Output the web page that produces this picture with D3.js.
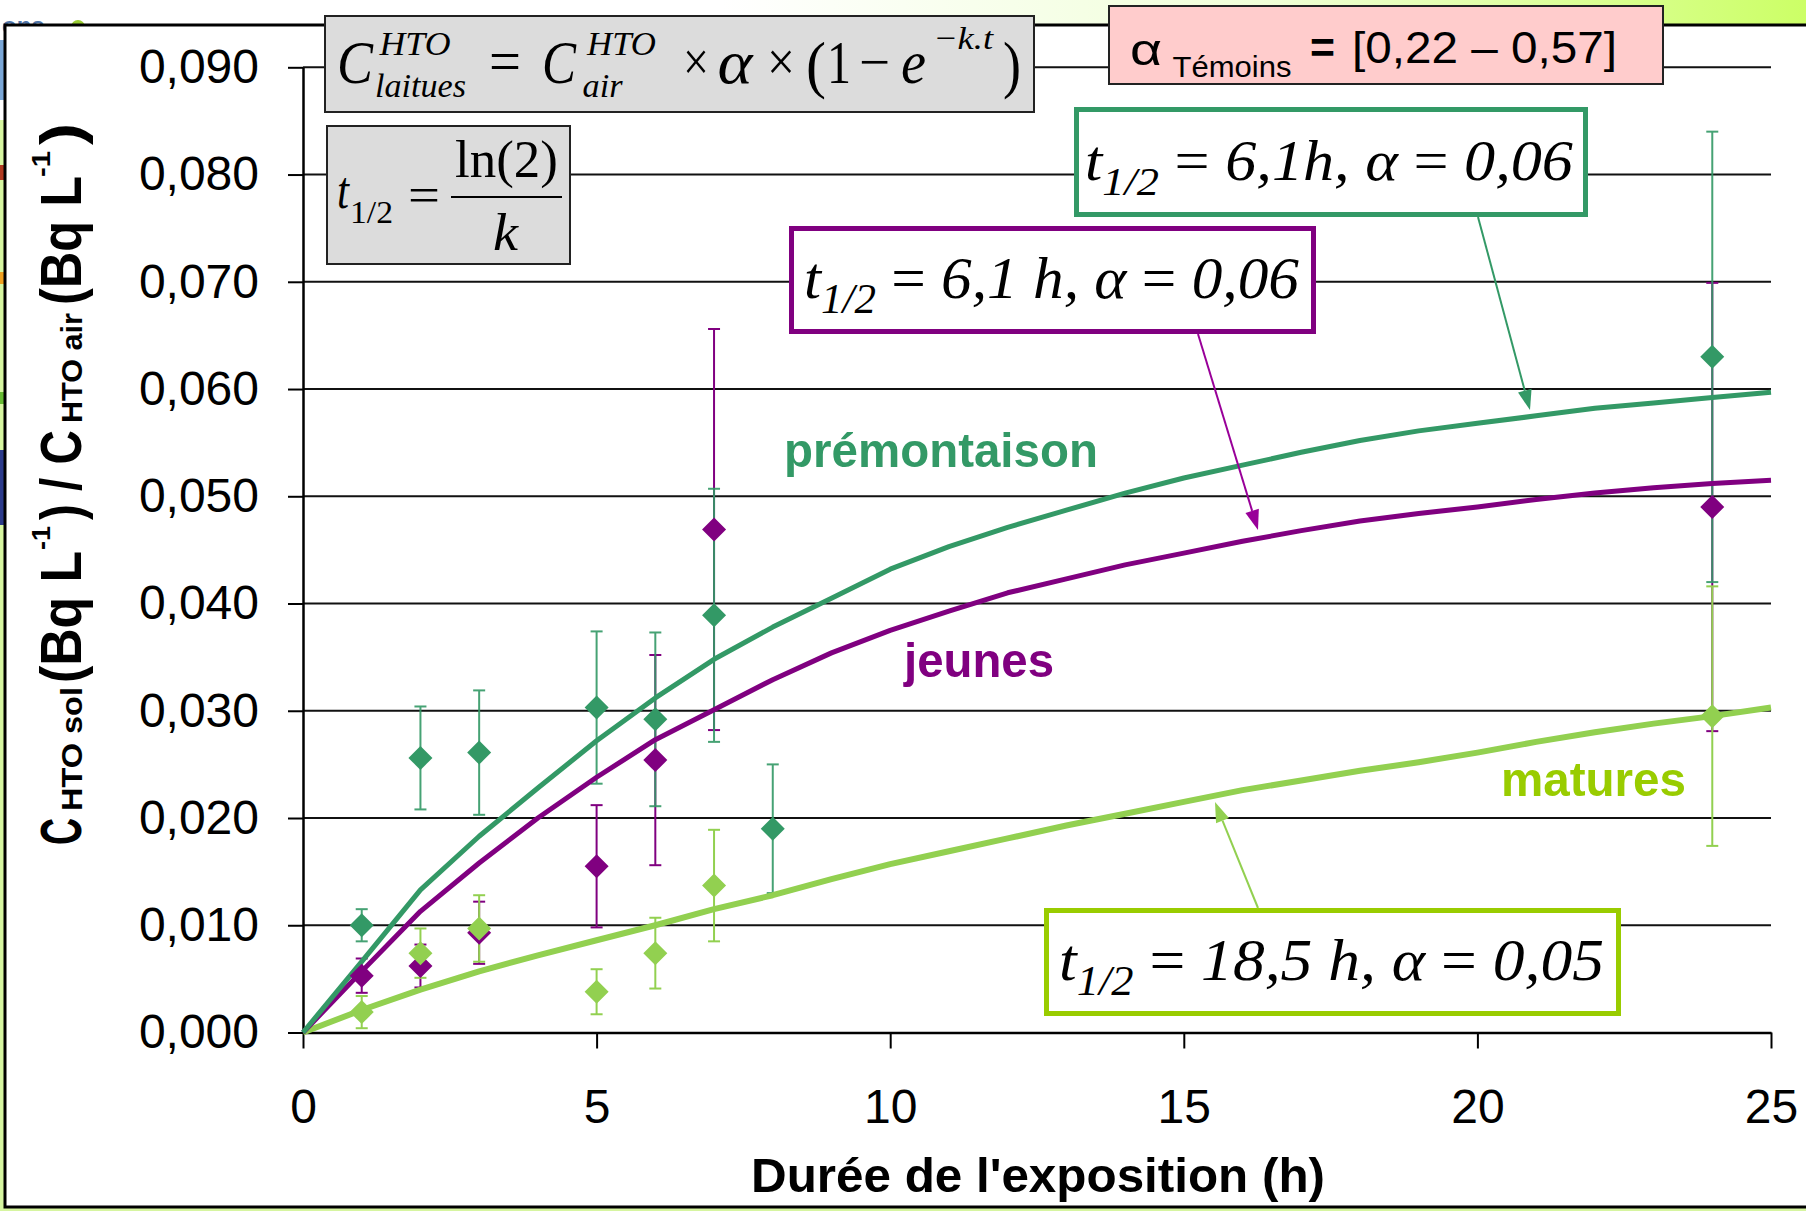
<!DOCTYPE html>
<html><head><meta charset="utf-8">
<script src="https://cdn.jsdelivr.net/npm/d3@7"></script>
<style>html,body{margin:0;padding:0;background:#fff;}svg{display:block;}</style>
</head><body>
<svg id="chart" width="1806" height="1211"></svg>
<script>
// ---------- data ----------
const xTicks = [0, 5, 10, 15, 20, 25];
const yTicks = [0, 0.01, 0.02, 0.03, 0.04, 0.05, 0.06, 0.07, 0.08, 0.09];
const yTickLabels = ["0,000","0,010","0,020","0,030","0,040","0,050","0,060","0,070","0,080","0,090"];

const premHours = [1, 2, 3, 5, 6, 7, 8, 24];
const premMean  = [0.0100, 0.0256, 0.0261, 0.0303, 0.0292, 0.0389, 0.0190, 0.0630];
const premErr   = [0.0015, 0.0048, 0.0058, 0.0071, 0.0081, 0.0118, 0.0060, 0.0210];

const jeunHours = [1, 2, 3, 5, 6, 7, 24];
const jeunMean  = [0.0053, 0.0062, 0.0093, 0.0155, 0.0254, 0.0469, 0.0490];
const jeunErr   = [0.0016, 0.0020, 0.0029, 0.0057, 0.0098, 0.0187, 0.0209];

const matHours = [1, 2, 3, 5, 6, 7, 24];
const matMean  = [0.0019, 0.0074, 0.0097, 0.0038, 0.0074, 0.0137, 0.0295];
const matErr   = [0.0015, 0.0023, 0.0031, 0.0021, 0.0033, 0.0052, 0.0121];

const fitHours = [0,1,2,3,4,5,6,7,8,9,10,11,12,13,14,15,16,17,18,19,20,21,22,23,24,25];
const premFit = [0,0.0066,0.0133,0.0183,0.0228,0.0272,0.0312,0.0348,0.0378,0.0405,0.0432,0.0453,0.0471,0.0487,0.0503,0.0517,0.0529,0.0541,0.0552,0.0561,0.0568,0.0575,0.0582,0.0587,0.0592,0.0597];
const jeunFit = [0,0.0057,0.0113,0.0158,0.0200,0.0238,0.0273,0.0301,0.0329,0.0354,0.0375,0.0393,0.0410,0.0423,0.0436,0.0447,0.0458,0.0468,0.0477,0.0484,0.0490,0.0497,0.0503,0.0508,0.0512,0.0515];
const matFit  = [0,0.0021,0.0040,0.0057,0.0072,0.0086,0.0100,0.0115,0.0128,0.0143,0.0157,0.0169,0.0181,0.0193,0.0204,0.0215,0.0226,0.0235,0.0244,0.0252,0.0261,0.0271,0.0280,0.0288,0.0295,0.0303];

// ---------- setup ----------
const SANS = "'Liberation Sans', Arial, Helvetica, sans-serif";
const SERIF = "'Liberation Serif', 'Times New Roman', serif";
const C_PREM = "#339966", C_JEUN = "#800080", C_MAT = "#92d050", C_MATTXT = "#99cc00";

const svg = d3.select("#chart");
const defs = svg.append("defs");
const grad = defs.append("linearGradient").attr("id","bg").attr("x1",0).attr("x2",1).attr("y1",0).attr("y2",0);
grad.append("stop").attr("offset","0").attr("stop-color","#ffffff");
grad.append("stop").attr("offset","0.4").attr("stop-color","#ffffff");
grad.append("stop").attr("offset","0.7").attr("stop-color","#f0ffd8");
grad.append("stop").attr("offset","1").attr("stop-color","#ccff66");
svg.append("rect").attr("width",1806).attr("height",1211).attr("fill","url(#bg)");
svg.append("rect").attr("x",0).attr("y",120).attr("width",8).attr("height",1091).attr("fill","#d6f5a0");
svg.append("rect").attr("x",0).attr("y",1205).attr("width",1806).attr("height",6).attr("fill","#d6f5a0");
// logo fragments on slide
svg.append("text").attr("x",2).attr("y",34).attr("font-family",SANS).attr("font-weight","bold").attr("font-size",24).attr("fill","#4f74a8").text("ons");
svg.append("circle").attr("cx",78).attr("cy",27).attr("r",7).attr("fill","#99cc33");
[[40,100,"#7aa6d6"],[165,180,"#b03a20"],[272,284,"#f0a020"],[392,404,"#66bb33"],[450,525,"#2b3a8a"]].forEach(b=>{
  svg.append("rect").attr("x",0).attr("y",b[0]).attr("width",6).attr("height",b[1]-b[0]).attr("fill",b[2]);
});
// frame
svg.append("rect").attr("x",5).attr("y",25).attr("width",1820).attr("height",1182)
  .attr("fill","#ffffff").attr("stroke","#000").attr("stroke-width",3);

const x = d3.scaleLinear().domain([0,25]).range([303,1771]);
const y = d3.scaleLinear().domain([0,0.09]).range([1032.5,67.3]);

// gridlines
svg.append("g").selectAll("line").data(yTicks.slice(1)).join("line")
  .attr("x1",x(0)).attr("x2",x(25)).attr("y1",d=>y(d)).attr("y2",d=>y(d))
  .attr("stroke","#111").attr("stroke-width",2);

// axes
const gy = svg.append("g").attr("transform",`translate(${x(0)},0)`)
  .call(d3.axisLeft(y).tickValues(yTicks).tickSize(15).tickSizeOuter(0).tickPadding(29)
        .tickFormat((d,i)=>yTickLabels[i]));
const gx = svg.append("g").attr("transform",`translate(0,${y(0)})`)
  .call(d3.axisBottom(x).tickValues(xTicks).tickSize(16).tickSizeOuter(0).tickPadding(40)
        .tickFormat(d=>String(d)));
[gx,gy].forEach(g=>{
  g.attr("font-family",SANS).attr("font-size",48);
  g.selectAll("text").attr("fill","#000");
  g.selectAll("line").attr("stroke","#000").attr("stroke-width",2);
  g.select(".domain").attr("stroke","#000").attr("stroke-width",2.5);
});

// axis titles
svg.append("text").attr("x",751).attr("y",1192).attr("font-family",SANS).attr("font-weight","bold")
  .attr("font-size",48).attr("textLength",574).attr("lengthAdjust","spacingAndGlyphs")
  .text("Durée de l'exposition (h)");

const yt = svg.append("g").attr("transform","rotate(-90)").attr("font-family",SANS).attr("font-weight","bold");
function ypiece(str, yStart, len, baseX, size){
  yt.append("text").attr("x",-yStart).attr("y",baseX).attr("font-size",size)
    .attr("textLength",len).attr("lengthAdjust","spacingAndGlyphs").text(str);
}
ypiece("C", 845, 27, 81, 58);
ypiece("HTO sol", 811, 124, 82, 29);
ypiece("(Bq L", 683, 132, 81, 58);
ypiece("-1", 550, 24, 50, 26);
ypiece(") / C", 520, 90, 81, 58);
ypiece("HTO air", 423, 110, 82, 29);
ypiece("(Bq L", 305, 129, 81, 58);
ypiece("-1", 177, 26, 50, 26);
ypiece(")", 145, 22, 81, 58);

// ---------- series ----------
const line = d3.line().x((d,i)=>x(fitHours[i])).y(d=>y(d));
const diamond = { draw(ctx,size){ const r=Math.sqrt(size/2); ctx.moveTo(0,-r); ctx.lineTo(r,0); ctx.lineTo(0,r); ctx.lineTo(-r,0); ctx.closePath(); } };

function errbars(hours, mean, err, color, op){
  const g = svg.append("g").attr("stroke",color).attr("stroke-width",2).attr("opacity",op);
  hours.forEach((h,i)=>{
    const xx = x(h), y1 = y(mean[i]+err[i]), y2 = y(mean[i]-err[i]);
    g.append("line").attr("x1",xx).attr("x2",xx).attr("y1",y1).attr("y2",y2);
    g.append("line").attr("x1",xx-6).attr("x2",xx+6).attr("y1",y1).attr("y2",y1);
    g.append("line").attr("x1",xx-6).attr("x2",xx+6).attr("y1",y2).attr("y2",y2);
  });
}
errbars(jeunHours, jeunMean, jeunErr, C_JEUN, 1);
errbars(premHours, premMean, premErr, C_PREM, 0.9);
errbars(matHours, matMean, matErr, C_MAT, 1);

svg.append("path").datum(matFit).attr("d",line).attr("fill","none").attr("stroke",C_MAT).attr("stroke-width",6).attr("stroke-linejoin","round");
svg.append("path").datum(jeunFit).attr("d",line).attr("fill","none").attr("stroke",C_JEUN).attr("stroke-width",5).attr("stroke-linejoin","round");
svg.append("path").datum(premFit).attr("d",line).attr("fill","none").attr("stroke",C_PREM).attr("stroke-width",5).attr("stroke-linejoin","round");

function markers(hours, mean, color){
  svg.append("g").selectAll("path").data(mean).join("path")
    .attr("transform",(d,i)=>`translate(${x(hours[i])},${y(d)})`)
    .attr("d", d3.symbol().type(diamond).size(288)).attr("fill",color);
}
markers(premHours, premMean, C_PREM);
markers(jeunHours, jeunMean, C_JEUN);
markers(matHours, matMean, C_MAT);

// series labels
function label(str, x0, base, w, color){
  svg.append("text").attr("x",x0).attr("y",base).attr("font-family",SANS).attr("font-weight","bold")
    .attr("font-size",49).attr("fill",color).attr("textLength",w).attr("lengthAdjust","spacingAndGlyphs").text(str);
}
label("prémontaison", 784, 467, 314, C_PREM);
label("jeunes", 904, 677, 150, C_JEUN);
label("matures", 1501, 796, 185, C_MATTXT);

// ---------- annotations ----------
function piece(g, str, x0, w, base, size, italic, family, bold){
  const t = g.append("text").attr("x",x0).attr("y",base).attr("font-family",family||SERIF).attr("font-size",size)
    .attr("textLength",w).attr("lengthAdjust","spacingAndGlyphs").text(str);
  if(italic) t.attr("font-style","italic");
  if(bold) t.attr("font-weight","bold");
  return t;
}
// formula box
const f1 = svg.append("g");
f1.append("rect").attr("x",325).attr("y",16).attr("width",709).attr("height",96).attr("fill","#dcdcdc").attr("stroke","#222").attr("stroke-width",2);
piece(f1,"C",337,36,83,62,true);
piece(f1,"HTO",379.5,71,55,34,true);
piece(f1,"laitues",375,91,97,33,true);
piece(f1,"=",489,32,82,62,false);
piece(f1,"C",542,34,83,62,true);
piece(f1,"HTO",587,69,55,34,true);
piece(f1,"air",582.6,40,97,33,true);
piece(f1,"×",683,26,80,54,false);
piece(f1,"α",717.6,35,83,62,true);
piece(f1,"×",767,28,80,54,false);
piece(f1,"(",806,20,86,64,false);
piece(f1,"1",827,24,83,62,false);
piece(f1,"−",859,31,80,54,false);
piece(f1,"e",901,25,83,62,true);
piece(f1,"−k.t",933,60,49,32,true);
piece(f1,")",1003,18,86,64,false);

// half-life box
const f2 = svg.append("g");
f2.append("rect").attr("x",327).attr("y",126).attr("width",243).attr("height",138).attr("fill","#dcdcdc").attr("stroke","#222").attr("stroke-width",2);
piece(f2,"t",337,12,208,52,true);
piece(f2,"1/2",350,43,223,32,false);
piece(f2,"=",408,32,212,50,false);
piece(f2,"ln(2)",455,103,177,52,false);
f2.append("line").attr("x1",451).attr("x2",562).attr("y1",197).attr("y2",197).attr("stroke","#000").attr("stroke-width",2);
piece(f2,"k",493,25,250,52,true);

// alpha temoins box
const f3 = svg.append("g");
f3.append("rect").attr("x",1109).attr("y",6).attr("width",554).attr("height",78).attr("fill","#ffcccc").attr("stroke","#222").attr("stroke-width",2);
piece(f3,"α",1130,32,65,44,false,SANS);
piece(f3,"Témoins",1172.5,119,77,30,false,SANS);
piece(f3,"=",1310,25,63,44,false,SANS,true);
piece(f3,"[0,22 – 0,57]",1352,265,63,45,false,SANS);

// fitted-parameter boxes
function eqn(x0, x1, base, size, subSize, parts){
  const t = svg.append("text").attr("x",0).attr("y",0).attr("font-family",SERIF).attr("font-size",size);
  parts.forEach(p=>{
    const s = t.append("tspan").text(p.s);
    if(p.i) s.attr("font-style","italic");
    if(p.sub) s.attr("font-size",subSize).attr("dy",15);
    if(p.back) s.attr("dy",-15);
  });
  const bb = t.node().getBBox();
  const s = (x1-x0)/bb.width;
  t.attr("transform",`translate(${x0 - bb.x*s},${base}) scale(${s},1)`);
}
function box(x0,y0,x1,y1,color){
  svg.append("rect").attr("x",x0+2.5).attr("y",y0+2.5).attr("width",x1-x0-5).attr("height",y1-y0-5)
    .attr("fill","#fff").attr("stroke",color).attr("stroke-width",5);
}
box(1074,107,1588,217,C_PREM);
eqn(1085,1573,180,56,40,[{s:"t",i:1},{s:"1/2",i:1,sub:1},{s:" = ",back:1},{s:"6,1h, ",i:1},{s:"α",i:1},{s:" = "},{s:"0,06",i:1}]);
box(789,226,1316,334,C_JEUN);
eqn(804,1299,298,60,42,[{s:"t",i:1},{s:"1/2",i:1,sub:1},{s:" = ",back:1},{s:"6,1 h, ",i:1},{s:"α",i:1},{s:" = "},{s:"0,06",i:1}]);
box(1044,908,1621,1016,C_MATTXT);
eqn(1059,1604,980,60,42,[{s:"t",i:1},{s:"1/2",i:1,sub:1},{s:" = ",back:1},{s:"18,5 h, ",i:1},{s:"α",i:1},{s:" = "},{s:"0,05",i:1}]);

// arrows
function arrow(x1,y1,x2,y2,color){
  const ang = Math.atan2(y2-y1,x2-x1), L=20, W=7;
  const bx = x2 - L*Math.cos(ang), by = y2 - L*Math.sin(ang);
  svg.append("line").attr("x1",x1).attr("y1",y1).attr("x2",bx).attr("y2",by).attr("stroke",color).attr("stroke-width",2);
  const p = [[x2,y2],[bx - W*Math.sin(ang), by + W*Math.cos(ang)],[bx + W*Math.sin(ang), by - W*Math.cos(ang)]];
  svg.append("path").attr("d","M"+p.map(q=>q.join(",")).join("L")+"Z").attr("fill",color);
}
arrow(1478,217,1530,410,C_PREM);
arrow(1198,334,1258,530,"#990099");
arrow(1258,908,1215,802,C_MAT);
</script>
</body></html>
